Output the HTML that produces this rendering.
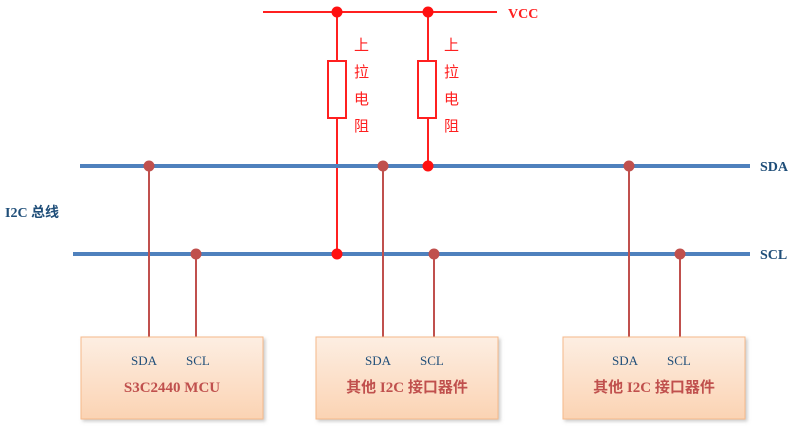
<!DOCTYPE html>
<html><head><meta charset="utf-8"><style>
body{margin:0;background:#fff;width:795px;height:428px;overflow:hidden}
</style></head><body>
<svg width="795" height="428" xmlns="http://www.w3.org/2000/svg" font-family="Liberation Serif, 'Noto Serif CJK SC', serif">
<defs>
<linearGradient id="g" x1="0" y1="0" x2="0" y2="1">
<stop offset="0" stop-color="#fdeee2"/><stop offset="1" stop-color="#fbd3b3"/></linearGradient>
<filter id="s"><feDropShadow dx="2" dy="2" stdDeviation="1.5" flood-color="#999" flood-opacity="0.5"/></filter>
</defs>
<!-- VCC -->
<line x1="263" y1="12" x2="497" y2="12" stroke="#ff2020" stroke-width="2"/>
<text x="508" y="18" font-size="14" font-weight="bold" fill="#ff2020">VCC</text>
<line x1="337" y1="12" x2="337" y2="254" stroke="#ff2020" stroke-width="2"/>
<line x1="428" y1="12" x2="428" y2="166" stroke="#ff2020" stroke-width="2"/>
<rect x="328" y="61" width="18" height="57" fill="#fff" stroke="#ff2020" stroke-width="2"/>
<rect x="418" y="61" width="18" height="57" fill="#fff" stroke="#ff2020" stroke-width="2"/>
<g font-family="'Noto Sans CJK SC', sans-serif" font-size="15" fill="#ff2020">
<text x="354" y="50">上</text><text x="354" y="77">拉</text><text x="354" y="104">电</text><text x="354" y="131">阻</text>
<text x="444" y="50">上</text><text x="444" y="77">拉</text><text x="444" y="104">电</text><text x="444" y="131">阻</text>
</g>
<!-- bus -->
<line x1="80" y1="166" x2="750" y2="166" stroke="#4f81bd" stroke-width="4"/>
<line x1="73" y1="254" x2="750" y2="254" stroke="#4f81bd" stroke-width="4"/>
<text x="760" y="171" font-size="14" font-weight="bold" fill="#1f4e79">SDA</text>
<text x="760" y="259" font-size="14" font-weight="bold" fill="#1f4e79">SCL</text>
<text x="5" y="217" font-size="14" font-weight="bold" fill="#1f4e79">I2C <tspan font-family="'Noto Sans CJK SC',sans-serif">总线</tspan></text>
<!-- drops -->
<g stroke="#c0504d" stroke-width="2">
<line x1="149" y1="166" x2="149" y2="337"/><line x1="196" y1="254" x2="196" y2="337"/>
<line x1="383" y1="166" x2="383" y2="337"/><line x1="434" y1="254" x2="434" y2="337"/>
<line x1="629" y1="166" x2="629" y2="337"/><line x1="680" y1="254" x2="680" y2="337"/>
</g>
<g fill="#c0504d">
<circle cx="149" cy="166" r="5.5"/><circle cx="196" cy="254" r="5.5"/>
<circle cx="383" cy="166" r="5.5"/><circle cx="434" cy="254" r="5.5"/>
<circle cx="629" cy="166" r="5.5"/><circle cx="680" cy="254" r="5.5"/>
</g>
<g fill="#ff1010">
<circle cx="337" cy="12" r="5.5"/><circle cx="428" cy="12" r="5.5"/>
<circle cx="428" cy="166" r="5.5"/><circle cx="337" cy="254" r="5.5"/>
</g>
<!-- boxes -->
<g fill="url(#g)" stroke="#f6b98a" stroke-width="1" filter="url(#s)">
<rect x="81" y="337" width="182" height="82"/>
<rect x="316" y="337" width="182" height="82"/>
<rect x="563" y="337" width="182" height="82"/>
</g>
<g font-size="13" fill="#1f4e79">
<text x="131" y="365">SDA</text><text x="186" y="365">SCL</text>
<text x="365" y="365">SDA</text><text x="420" y="365">SCL</text>
<text x="612" y="365">SDA</text><text x="667" y="365">SCL</text>
</g>
<g font-size="15" font-weight="bold" fill="#c0504d" text-anchor="middle">
<text x="172" y="392">S3C2440 MCU</text>
<text x="407" y="392"><tspan font-family="'Noto Sans CJK SC',sans-serif">其他</tspan> I2C <tspan font-family="'Noto Sans CJK SC',sans-serif">接口器件</tspan></text>
<text x="654" y="392"><tspan font-family="'Noto Sans CJK SC',sans-serif">其他</tspan> I2C <tspan font-family="'Noto Sans CJK SC',sans-serif">接口器件</tspan></text>
</g>
</svg>
</body></html>
